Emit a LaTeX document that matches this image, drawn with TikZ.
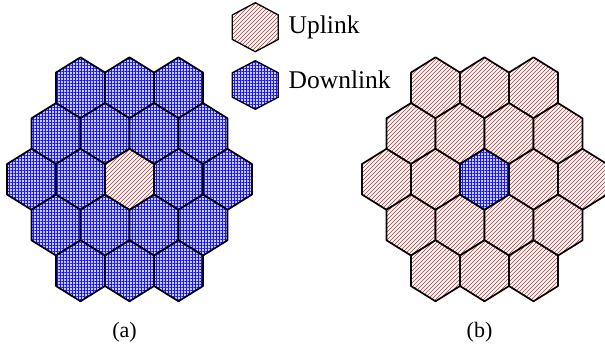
\documentclass[tikz,border=0pt]{standalone}
\usepackage{fontspec}
\setmainfont{Liberation Serif}
\usetikzlibrary{patterns.meta}
\definecolor{hatchred}{RGB}{180,60,60}
\definecolor{gridblue}{RGB}{20,20,255}
\tikzset{
  uplinkfill/.style={preaction={fill=red!4},
    pattern={Lines[angle=45,distance=2.8284pt,line width=0.45pt]}, pattern color=hatchred},
  downlinkfill/.style={preaction={fill=blue!20},
    pattern={Hatch[angle=0,distance=3pt,line width=0.7pt]}, pattern color=gridblue},
  cellline/.style={draw=black, line width=1.7pt, line join=round},
  legline/.style={draw=black, line width=1.3pt, line join=round},
  legtext/.style={anchor=base west, inner sep=0pt, font=\fontsize{25.5}{28}\selectfont},
  captext/.style={anchor=base, inner sep=0pt, font=\fontsize{22}{24}\selectfont},
}
% hexagon path: center x, center y, half width, vertex half height, side half height
\newcommand\hexpth[5]{(#1,#2+#4) -- (#1+#3,#2+#5) -- (#1+#3,#2-#5) -- (#1,#2-#4) -- (#1-#3,#2-#5) -- (#1-#3,#2+#5) -- cycle}
\begin{document}
\begin{tikzpicture}[x=1pt,y=1pt]
\useasboundingbox (0,0) rectangle (605,347);
\clip (0,0) rectangle (605,347);
\def\ha{24.5}
\def\hR{30.5}
\def\hs{15.25}
% cluster (a)
\foreach \u/\v in {-2/2,0/2,2/2,-3/1,-1/1,1/1,3/1,-4/0,-2/0,2/0,4/0,-3/-1,-1/-1,1/-1,3/-1,-2/-2,0/-2,2/-2}{
  \path[downlinkfill,cellline] \hexpth{129.5+\u*\ha}{167.7+\v*45.75}{\ha}{\hR}{\hs};
}
\path[uplinkfill,cellline] \hexpth{129.5}{167.7}{\ha}{\hR}{\hs};
% cluster (b)
\foreach \u/\v in {-2/2,0/2,2/2,-3/1,-1/1,1/1,3/1,-4/0,-2/0,2/0,4/0,-3/-1,-1/-1,1/-1,3/-1,-2/-2,0/-2,2/-2}{
  \path[uplinkfill,cellline] \hexpth{484.5+\u*\ha}{167.7+\v*45.75}{\ha}{\hR}{\hs};
}
\path[downlinkfill,cellline] \hexpth{484.5}{167.7}{\ha}{\hR}{\hs};
% legend
\path[uplinkfill,legline] \hexpth{255.3}{319.8}{23}{24.5}{12.2};
\path[downlinkfill,legline] \hexpth{255.3}{262}{23}{24.3}{12.2};
\node[legtext] (up) at (288.5,313.7) {Uplink};
\node[legtext] (down) at (288.5,258.7) {Downlink};
% captions
\node[captext] (capa) at (124.5,9.5) {(a)};
\node[captext] (capb) at (479.5,9.5) {(b)};
\end{tikzpicture}
\end{document}
